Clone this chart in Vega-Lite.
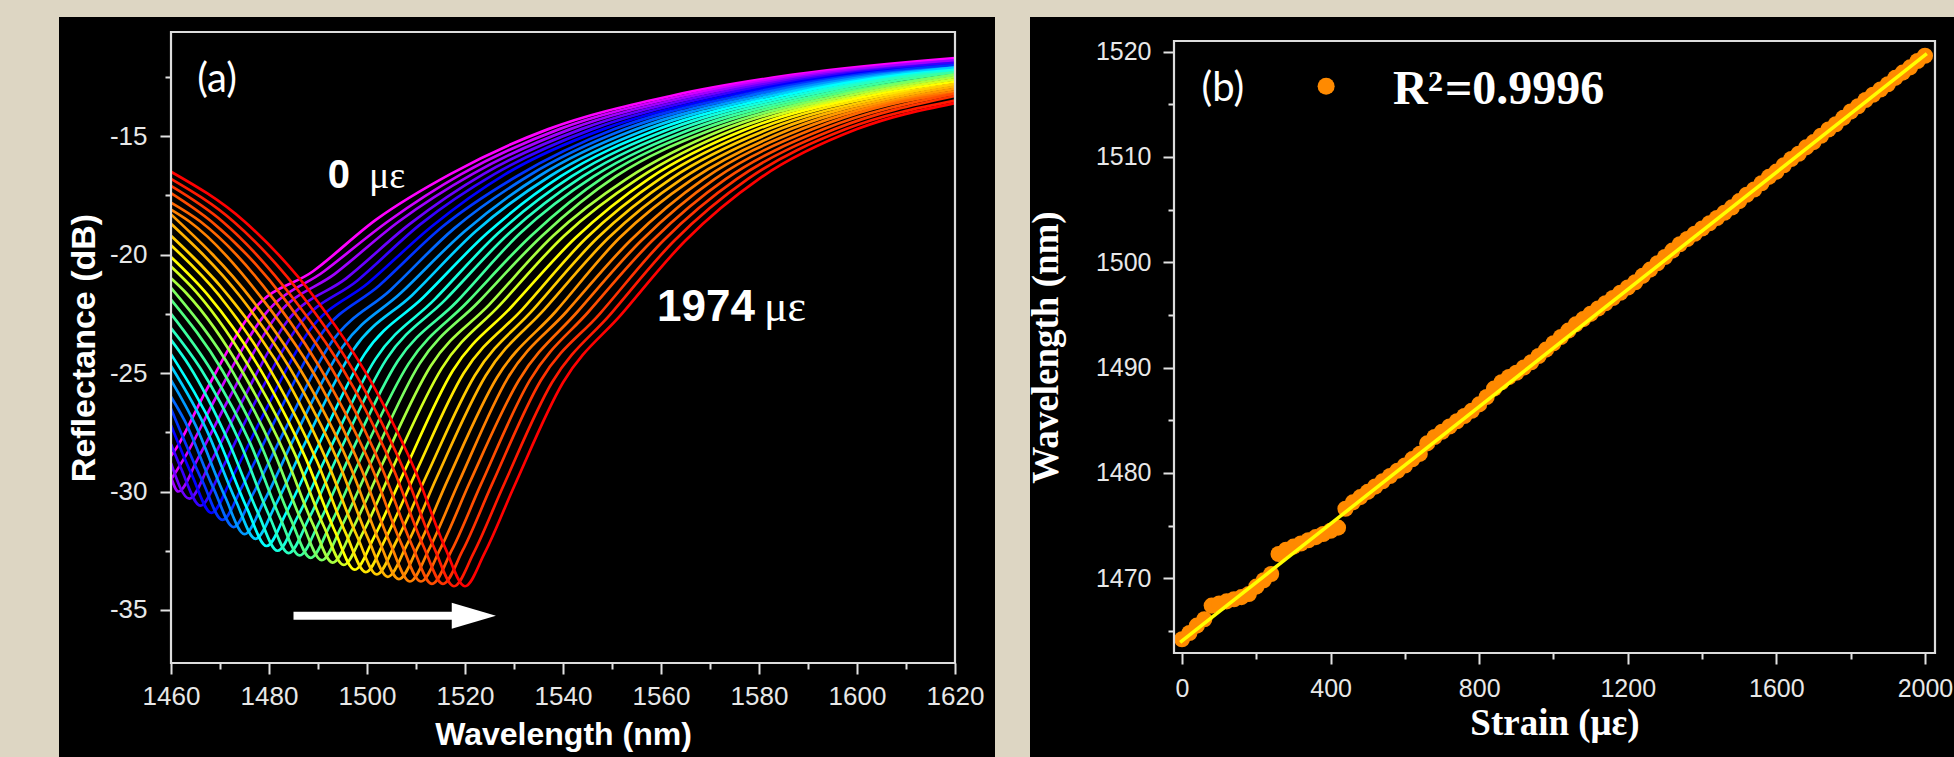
{
"$schema": "https://vega.github.io/schema/vega-lite/v6.json",
"background": "#ddd6c3",
"padding": {"left": 59, "top": 17, "right": 0, "bottom": 0},
"spacing": 32,
"config": {
  "view": {"stroke": null},
  "axis": {"grid": false, "domain": false, "tickColor": "#e2e2e2", "tickWidth": 2, "labelColor": "#e8e8e8", "titleColor": "#ffffff", "labelFont": "Liberation Sans", "labelFlush": false, "labelOverlap": false}
},
"hconcat": [
{
  "width": 936, "height": 740,
  "view": {"fill": "#000000", "stroke": null},
  "resolve": {"axis": {"x": "independent", "y": "independent"}},
  "layer": [
  {
    "data": {"values": [
{"c":0,"wl":1460,"r":-28.5},{"c":0,"wl":1461,"r":-28.2},{"c":0,"wl":1467,"r":-25.8},{"c":0,"wl":1477,"r":-22.3},{"c":0,"wl":1489,"r":-20.7},{"c":0,"wl":1502,"r":-18.5},{"c":0,"wl":1517,"r":-16.6},{"c":0,"wl":1537,"r":-14.7},{"c":0,"wl":1562,"r":-13.3},{"c":0,"wl":1587,"r":-12.4},{"c":0,"wl":1620,"r":-11.7},
{"c":1,"wl":1460,"r":-29.5},{"c":1,"wl":1463.25,"r":-28.4},{"c":1,"wl":1469.25,"r":-26.0},{"c":1,"wl":1479.25,"r":-22.5},{"c":1,"wl":1491.25,"r":-20.7},{"c":1,"wl":1504.25,"r":-18.6},{"c":1,"wl":1519.25,"r":-16.6},{"c":1,"wl":1539.25,"r":-14.7},{"c":1,"wl":1564.25,"r":-13.3},{"c":1,"wl":1589.25,"r":-12.4},{"c":1,"wl":1620,"r":-11.8},
{"c":2,"wl":1460,"r":-29.4},{"c":2,"wl":1461.5,"r":-30.0},{"c":2,"wl":1465.5,"r":-28.6},{"c":2,"wl":1471.5,"r":-26.2},{"c":2,"wl":1481.5,"r":-22.6},{"c":2,"wl":1493.5,"r":-20.8},{"c":2,"wl":1506.5,"r":-18.6},{"c":2,"wl":1521.5,"r":-16.6},{"c":2,"wl":1541.5,"r":-14.7},{"c":2,"wl":1566.5,"r":-13.3},{"c":2,"wl":1591.5,"r":-12.4},{"c":2,"wl":1620,"r":-11.8},
{"c":3,"wl":1460,"r":-28.8},{"c":3,"wl":1463.75,"r":-30.3},{"c":3,"wl":1467.75,"r":-28.9},{"c":3,"wl":1473.75,"r":-26.5},{"c":3,"wl":1483.75,"r":-22.8},{"c":3,"wl":1495.75,"r":-21.0},{"c":3,"wl":1508.75,"r":-18.7},{"c":3,"wl":1523.75,"r":-16.6},{"c":3,"wl":1543.75,"r":-14.7},{"c":3,"wl":1568.75,"r":-13.3},{"c":3,"wl":1593.75,"r":-12.4},{"c":3,"wl":1620,"r":-11.9},
{"c":4,"wl":1460,"r":-28.0},{"c":4,"wl":1462,"r":-29.0},{"c":4,"wl":1466,"r":-30.6},{"c":4,"wl":1470,"r":-29.2},{"c":4,"wl":1476,"r":-26.7},{"c":4,"wl":1486,"r":-23.0},{"c":4,"wl":1498,"r":-21.1},{"c":4,"wl":1511,"r":-18.7},{"c":4,"wl":1526,"r":-16.6},{"c":4,"wl":1546,"r":-14.7},{"c":4,"wl":1571,"r":-13.3},{"c":4,"wl":1596,"r":-12.4},{"c":4,"wl":1620,"r":-11.9},
{"c":5,"wl":1460,"r":-27.2},{"c":5,"wl":1464.25,"r":-29.3},{"c":5,"wl":1468.25,"r":-30.9},{"c":5,"wl":1472.25,"r":-29.5},{"c":5,"wl":1478.25,"r":-27.0},{"c":5,"wl":1488.25,"r":-23.2},{"c":5,"wl":1500.25,"r":-21.2},{"c":5,"wl":1513.25,"r":-18.8},{"c":5,"wl":1528.25,"r":-16.6},{"c":5,"wl":1548.25,"r":-14.7},{"c":5,"wl":1573.25,"r":-13.3},{"c":5,"wl":1598.25,"r":-12.4},{"c":5,"wl":1620,"r":-12.0},
{"c":6,"wl":1460,"r":-26.5},{"c":6,"wl":1466.5,"r":-29.6},{"c":6,"wl":1470.5,"r":-31.2},{"c":6,"wl":1474.5,"r":-29.8},{"c":6,"wl":1480.5,"r":-27.3},{"c":6,"wl":1490.5,"r":-23.4},{"c":6,"wl":1502.5,"r":-21.3},{"c":6,"wl":1515.5,"r":-18.8},{"c":6,"wl":1530.5,"r":-16.7},{"c":6,"wl":1550.5,"r":-14.7},{"c":6,"wl":1575.5,"r":-13.3},{"c":6,"wl":1600.5,"r":-12.4},{"c":6,"wl":1620,"r":-12.0},
{"c":7,"wl":1460,"r":-26.0},{"c":7,"wl":1462.75,"r":-27.0},{"c":7,"wl":1468.75,"r":-29.9},{"c":7,"wl":1472.75,"r":-31.5},{"c":7,"wl":1476.75,"r":-30.1},{"c":7,"wl":1482.75,"r":-27.6},{"c":7,"wl":1492.75,"r":-23.7},{"c":7,"wl":1504.75,"r":-21.5},{"c":7,"wl":1517.75,"r":-18.9},{"c":7,"wl":1532.75,"r":-16.7},{"c":7,"wl":1552.75,"r":-14.7},{"c":7,"wl":1577.75,"r":-13.3},{"c":7,"wl":1602.75,"r":-12.4},{"c":7,"wl":1620,"r":-12.1},
{"c":8,"wl":1460,"r":-25.3},{"c":8,"wl":1465,"r":-27.2},{"c":8,"wl":1471,"r":-30.2},{"c":8,"wl":1475,"r":-31.8},{"c":8,"wl":1479,"r":-30.4},{"c":8,"wl":1485,"r":-27.8},{"c":8,"wl":1495,"r":-23.9},{"c":8,"wl":1507,"r":-21.6},{"c":8,"wl":1520,"r":-19.0},{"c":8,"wl":1535,"r":-16.7},{"c":8,"wl":1555,"r":-14.7},{"c":8,"wl":1580,"r":-13.3},{"c":8,"wl":1605,"r":-12.4},{"c":8,"wl":1620,"r":-12.1},
{"c":9,"wl":1460,"r":-24.7},{"c":9,"wl":1467.25,"r":-27.4},{"c":9,"wl":1473.25,"r":-30.4},{"c":9,"wl":1477.25,"r":-32.0},{"c":9,"wl":1481.25,"r":-30.6},{"c":9,"wl":1487.25,"r":-28.0},{"c":9,"wl":1497.25,"r":-24.0},{"c":9,"wl":1509.25,"r":-21.7},{"c":9,"wl":1522.25,"r":-19.0},{"c":9,"wl":1537.25,"r":-16.7},{"c":9,"wl":1557.25,"r":-14.7},{"c":9,"wl":1582.25,"r":-13.3},{"c":9,"wl":1607.25,"r":-12.4},{"c":9,"wl":1620,"r":-12.1},
{"c":10,"wl":1460,"r":-24.2},{"c":10,"wl":1469.5,"r":-27.7},{"c":10,"wl":1475.5,"r":-30.7},{"c":10,"wl":1479.5,"r":-32.3},{"c":10,"wl":1483.5,"r":-30.9},{"c":10,"wl":1489.5,"r":-28.3},{"c":10,"wl":1499.5,"r":-24.2},{"c":10,"wl":1511.5,"r":-21.8},{"c":10,"wl":1524.5,"r":-19.1},{"c":10,"wl":1539.5,"r":-16.7},{"c":10,"wl":1559.5,"r":-14.7},{"c":10,"wl":1584.5,"r":-13.3},{"c":10,"wl":1609.5,"r":-12.4},{"c":10,"wl":1620,"r":-12.2},
{"c":11,"wl":1460,"r":-23.6},{"c":11,"wl":1463.75,"r":-24.7},{"c":11,"wl":1471.75,"r":-27.9},{"c":11,"wl":1477.75,"r":-30.9},{"c":11,"wl":1481.75,"r":-32.5},{"c":11,"wl":1485.75,"r":-31.1},{"c":11,"wl":1491.75,"r":-28.5},{"c":11,"wl":1501.75,"r":-24.4},{"c":11,"wl":1513.75,"r":-21.9},{"c":11,"wl":1526.75,"r":-19.1},{"c":11,"wl":1541.75,"r":-16.7},{"c":11,"wl":1561.75,"r":-14.7},{"c":11,"wl":1586.75,"r":-13.3},{"c":11,"wl":1611.75,"r":-12.4},{"c":11,"wl":1620,"r":-12.2},
{"c":12,"wl":1460,"r":-23.1},{"c":12,"wl":1466,"r":-24.8},{"c":12,"wl":1474,"r":-27.9},{"c":12,"wl":1480,"r":-31.0},{"c":12,"wl":1484,"r":-32.6},{"c":12,"wl":1488,"r":-31.2},{"c":12,"wl":1494,"r":-28.5},{"c":12,"wl":1504,"r":-24.4},{"c":12,"wl":1516,"r":-21.9},{"c":12,"wl":1529,"r":-19.1},{"c":12,"wl":1544,"r":-16.7},{"c":12,"wl":1564,"r":-14.7},{"c":12,"wl":1589,"r":-13.3},{"c":12,"wl":1614,"r":-12.4},{"c":12,"wl":1620,"r":-12.3},
{"c":13,"wl":1460,"r":-22.5},{"c":13,"wl":1468.25,"r":-24.9},{"c":13,"wl":1476.25,"r":-28.0},{"c":13,"wl":1482.25,"r":-31.1},{"c":13,"wl":1486.25,"r":-32.7},{"c":13,"wl":1490.25,"r":-31.3},{"c":13,"wl":1496.25,"r":-28.6},{"c":13,"wl":1506.25,"r":-24.5},{"c":13,"wl":1518.25,"r":-22.0},{"c":13,"wl":1531.25,"r":-19.1},{"c":13,"wl":1546.25,"r":-16.7},{"c":13,"wl":1566.25,"r":-14.7},{"c":13,"wl":1591.25,"r":-13.3},{"c":13,"wl":1616.25,"r":-12.4},{"c":13,"wl":1620,"r":-12.3},
{"c":14,"wl":1460,"r":-21.9},{"c":14,"wl":1470.5,"r":-24.9},{"c":14,"wl":1478.5,"r":-28.1},{"c":14,"wl":1484.5,"r":-31.2},{"c":14,"wl":1488.5,"r":-32.8},{"c":14,"wl":1492.5,"r":-31.4},{"c":14,"wl":1498.5,"r":-28.7},{"c":14,"wl":1508.5,"r":-24.6},{"c":14,"wl":1520.5,"r":-22.0},{"c":14,"wl":1533.5,"r":-19.2},{"c":14,"wl":1548.5,"r":-16.7},{"c":14,"wl":1568.5,"r":-14.7},{"c":14,"wl":1593.5,"r":-13.3},{"c":14,"wl":1620,"r":-12.4},
{"c":15,"wl":1460,"r":-21.4},{"c":15,"wl":1472.75,"r":-25.0},{"c":15,"wl":1480.75,"r":-28.2},{"c":15,"wl":1486.75,"r":-31.3},{"c":15,"wl":1490.75,"r":-32.9},{"c":15,"wl":1494.75,"r":-31.5},{"c":15,"wl":1500.75,"r":-28.8},{"c":15,"wl":1510.75,"r":-24.6},{"c":15,"wl":1522.75,"r":-22.0},{"c":15,"wl":1535.75,"r":-19.2},{"c":15,"wl":1550.75,"r":-16.7},{"c":15,"wl":1570.75,"r":-14.7},{"c":15,"wl":1595.75,"r":-13.3},{"c":15,"wl":1620,"r":-12.4},
{"c":16,"wl":1460,"r":-21.0},{"c":16,"wl":1463,"r":-21.6},{"c":16,"wl":1475,"r":-25.1},{"c":16,"wl":1483,"r":-28.3},{"c":16,"wl":1489,"r":-31.4},{"c":16,"wl":1493,"r":-33.0},{"c":16,"wl":1497,"r":-31.6},{"c":16,"wl":1503,"r":-28.9},{"c":16,"wl":1513,"r":-24.7},{"c":16,"wl":1525,"r":-22.1},{"c":16,"wl":1538,"r":-19.2},{"c":16,"wl":1553,"r":-16.8},{"c":16,"wl":1573,"r":-14.7},{"c":16,"wl":1598,"r":-13.3},{"c":16,"wl":1620,"r":-12.5},
{"c":17,"wl":1460,"r":-20.5},{"c":17,"wl":1465.25,"r":-21.6},{"c":17,"wl":1477.25,"r":-25.2},{"c":17,"wl":1485.25,"r":-28.4},{"c":17,"wl":1491.25,"r":-31.5},{"c":17,"wl":1495.25,"r":-33.1},{"c":17,"wl":1499.25,"r":-31.7},{"c":17,"wl":1505.25,"r":-29.0},{"c":17,"wl":1515.25,"r":-24.8},{"c":17,"wl":1527.25,"r":-22.1},{"c":17,"wl":1540.25,"r":-19.2},{"c":17,"wl":1555.25,"r":-16.8},{"c":17,"wl":1575.25,"r":-14.7},{"c":17,"wl":1600.25,"r":-13.3},{"c":17,"wl":1620,"r":-12.6},
{"c":18,"wl":1460,"r":-20.1},{"c":18,"wl":1467.5,"r":-21.7},{"c":18,"wl":1479.5,"r":-25.3},{"c":18,"wl":1487.5,"r":-28.6},{"c":18,"wl":1493.5,"r":-31.7},{"c":18,"wl":1497.5,"r":-33.3},{"c":18,"wl":1501.5,"r":-31.9},{"c":18,"wl":1507.5,"r":-29.2},{"c":18,"wl":1517.5,"r":-24.9},{"c":18,"wl":1529.5,"r":-22.2},{"c":18,"wl":1542.5,"r":-19.3},{"c":18,"wl":1557.5,"r":-16.8},{"c":18,"wl":1577.5,"r":-14.7},{"c":18,"wl":1602.5,"r":-13.3},{"c":18,"wl":1620,"r":-12.7},
{"c":19,"wl":1460,"r":-19.6},{"c":19,"wl":1469.75,"r":-21.7},{"c":19,"wl":1481.75,"r":-25.4},{"c":19,"wl":1489.75,"r":-28.7},{"c":19,"wl":1495.75,"r":-31.8},{"c":19,"wl":1499.75,"r":-33.4},{"c":19,"wl":1503.75,"r":-32.0},{"c":19,"wl":1509.75,"r":-29.3},{"c":19,"wl":1519.75,"r":-25.0},{"c":19,"wl":1531.75,"r":-22.3},{"c":19,"wl":1544.75,"r":-19.3},{"c":19,"wl":1559.75,"r":-16.8},{"c":19,"wl":1579.75,"r":-14.7},{"c":19,"wl":1604.75,"r":-13.3},{"c":19,"wl":1620,"r":-12.8},
{"c":20,"wl":1460,"r":-19.2},{"c":20,"wl":1472,"r":-21.8},{"c":20,"wl":1484,"r":-25.4},{"c":20,"wl":1492,"r":-28.8},{"c":20,"wl":1498,"r":-31.9},{"c":20,"wl":1502,"r":-33.5},{"c":20,"wl":1506,"r":-32.1},{"c":20,"wl":1512,"r":-29.4},{"c":20,"wl":1522,"r":-25.1},{"c":20,"wl":1534,"r":-22.3},{"c":20,"wl":1547,"r":-19.3},{"c":20,"wl":1562,"r":-16.8},{"c":20,"wl":1582,"r":-14.7},{"c":20,"wl":1607,"r":-13.3},{"c":20,"wl":1620,"r":-12.8},
{"c":21,"wl":1460,"r":-18.7},{"c":21,"wl":1474.25,"r":-21.8},{"c":21,"wl":1486.25,"r":-25.5},{"c":21,"wl":1494.25,"r":-28.8},{"c":21,"wl":1500.25,"r":-32.0},{"c":21,"wl":1504.25,"r":-33.6},{"c":21,"wl":1508.25,"r":-32.2},{"c":21,"wl":1514.25,"r":-29.4},{"c":21,"wl":1524.25,"r":-25.1},{"c":21,"wl":1536.25,"r":-22.3},{"c":21,"wl":1549.25,"r":-19.3},{"c":21,"wl":1564.25,"r":-16.8},{"c":21,"wl":1584.25,"r":-14.7},{"c":21,"wl":1609.25,"r":-13.3},{"c":21,"wl":1620,"r":-12.9},
{"c":22,"wl":1460,"r":-18.3},{"c":22,"wl":1476.5,"r":-21.9},{"c":22,"wl":1488.5,"r":-25.6},{"c":22,"wl":1496.5,"r":-28.9},{"c":22,"wl":1502.5,"r":-32.1},{"c":22,"wl":1506.5,"r":-33.7},{"c":22,"wl":1510.5,"r":-32.3},{"c":22,"wl":1516.5,"r":-29.5},{"c":22,"wl":1526.5,"r":-25.2},{"c":22,"wl":1538.5,"r":-22.4},{"c":22,"wl":1551.5,"r":-19.3},{"c":22,"wl":1566.5,"r":-16.8},{"c":22,"wl":1586.5,"r":-14.7},{"c":22,"wl":1611.5,"r":-13.3},{"c":22,"wl":1620,"r":-13.0},
{"c":23,"wl":1460,"r":-18.1},{"c":23,"wl":1463.75,"r":-18.6},{"c":23,"wl":1478.75,"r":-21.9},{"c":23,"wl":1490.75,"r":-25.6},{"c":23,"wl":1498.75,"r":-29.0},{"c":23,"wl":1504.75,"r":-32.2},{"c":23,"wl":1508.75,"r":-33.8},{"c":23,"wl":1512.75,"r":-32.4},{"c":23,"wl":1518.75,"r":-29.6},{"c":23,"wl":1528.75,"r":-25.2},{"c":23,"wl":1540.75,"r":-22.4},{"c":23,"wl":1553.75,"r":-19.4},{"c":23,"wl":1568.75,"r":-16.8},{"c":23,"wl":1588.75,"r":-14.7},{"c":23,"wl":1613.75,"r":-13.3},{"c":23,"wl":1620,"r":-13.1},
{"c":24,"wl":1460,"r":-17.8},{"c":24,"wl":1466,"r":-18.6},{"c":24,"wl":1481,"r":-21.9},{"c":24,"wl":1493,"r":-25.7},{"c":24,"wl":1501,"r":-29.0},{"c":24,"wl":1507,"r":-32.2},{"c":24,"wl":1511,"r":-33.8},{"c":24,"wl":1515,"r":-32.4},{"c":24,"wl":1521,"r":-29.6},{"c":24,"wl":1531,"r":-25.3},{"c":24,"wl":1543,"r":-22.4},{"c":24,"wl":1556,"r":-19.4},{"c":24,"wl":1571,"r":-16.8},{"c":24,"wl":1591,"r":-14.7},{"c":24,"wl":1616,"r":-13.3},{"c":24,"wl":1620,"r":-13.2},
{"c":25,"wl":1460,"r":-17.4},{"c":25,"wl":1468.25,"r":-18.6},{"c":25,"wl":1483.25,"r":-21.9},{"c":25,"wl":1495.25,"r":-25.7},{"c":25,"wl":1503.25,"r":-29.1},{"c":25,"wl":1509.25,"r":-32.3},{"c":25,"wl":1513.25,"r":-33.9},{"c":25,"wl":1517.25,"r":-32.5},{"c":25,"wl":1523.25,"r":-29.7},{"c":25,"wl":1533.25,"r":-25.3},{"c":25,"wl":1545.25,"r":-22.4},{"c":25,"wl":1558.25,"r":-19.4},{"c":25,"wl":1573.25,"r":-16.8},{"c":25,"wl":1593.25,"r":-14.7},{"c":25,"wl":1620,"r":-13.2},
{"c":26,"wl":1460,"r":-17.1},{"c":26,"wl":1470.5,"r":-18.6},{"c":26,"wl":1485.5,"r":-22.0},{"c":26,"wl":1497.5,"r":-25.7},{"c":26,"wl":1505.5,"r":-29.1},{"c":26,"wl":1511.5,"r":-32.3},{"c":26,"wl":1515.5,"r":-33.9},{"c":26,"wl":1519.5,"r":-32.5},{"c":26,"wl":1525.5,"r":-29.7},{"c":26,"wl":1535.5,"r":-25.3},{"c":26,"wl":1547.5,"r":-22.5},{"c":26,"wl":1560.5,"r":-19.4},{"c":26,"wl":1575.5,"r":-16.8},{"c":26,"wl":1595.5,"r":-14.7},{"c":26,"wl":1620,"r":-13.3},
{"c":27,"wl":1460,"r":-16.8},{"c":27,"wl":1472.75,"r":-18.6},{"c":27,"wl":1487.75,"r":-22.0},{"c":27,"wl":1499.75,"r":-25.8},{"c":27,"wl":1507.75,"r":-29.2},{"c":27,"wl":1513.75,"r":-32.4},{"c":27,"wl":1517.75,"r":-34.0},{"c":27,"wl":1521.75,"r":-32.6},{"c":27,"wl":1527.75,"r":-29.8},{"c":27,"wl":1537.75,"r":-25.4},{"c":27,"wl":1549.75,"r":-22.5},{"c":27,"wl":1562.75,"r":-19.4},{"c":27,"wl":1577.75,"r":-16.8},{"c":27,"wl":1597.75,"r":-14.7},{"c":27,"wl":1620,"r":-13.5},
{"c":28,"wl":1460,"r":-16.5},{"c":28,"wl":1475,"r":-18.6},{"c":28,"wl":1490,"r":-22.0},{"c":28,"wl":1502,"r":-25.8},{"c":28,"wl":1510,"r":-29.2},{"c":28,"wl":1516,"r":-32.4},{"c":28,"wl":1520,"r":-34.0},{"c":28,"wl":1524,"r":-32.6},{"c":28,"wl":1530,"r":-29.8},{"c":28,"wl":1540,"r":-25.4},{"c":28,"wl":1552,"r":-22.5},{"c":28,"wl":1565,"r":-19.4},{"c":28,"wl":1580,"r":-16.8},{"c":28,"wl":1600,"r":-14.7},{"c":28,"wl":1620,"r":-13.6}
    ]},
    "mark": {"type": "line", "interpolate": "monotone", "strokeWidth": 2.7},
    "encoding": {
      "x": {"field": "wl", "type": "quantitative",
        "scale": {"domain": [1460, 1620], "range": [112, 896], "nice": false, "zero": false},
        "axis": {"orient": "bottom", "offset": -94, "values": [1460,1480,1500,1520,1540,1560,1580,1600,1620], "format": "d", "tickSize": 11, "labelFontSize": 26, "labelPadding": 9, "title": "Wavelength (nm)", "titleFont": "Liberation Sans", "titleFontSize": 32, "titleFontWeight": "bold", "titlePadding": 10}},
      "y": {"field": "r", "type": "quantitative",
        "scale": {"domain": [-37.24, -10.6], "range": [646, 15], "nice": false, "zero": false},
        "axis": {"orient": "left", "offset": -112, "values": [-35,-30,-25,-20,-15], "labelExpr": "replace(datum.label, '−', '-')", "tickSize": 11, "labelFontSize": 26, "labelPadding": 13, "title": "Reflectance (dB)", "titleFont": "Liberation Sans", "titleFontSize": 34, "titleFontWeight": "bold", "titlePadding": 8}},
      "color": {"field": "c", "type": "quantitative", "legend": null,
        "scale": {"type": "linear", "domain": [0,2,5,10,14,18,23,28], "range": ["#ff00ff","#a000ff","#0000ff","#00ffff","#50ff80","#ffff00","#ff8000","#ff0000"], "interpolate": "rgb"}},
      "detail": {"field": "c", "type": "nominal"}
    }
  },
  {
    "data": {"values": [{}]},
    "mark": {"type": "rect", "fillOpacity": 0, "stroke": "#dddddd", "strokeWidth": 2.2},
    "encoding": {
      "x": {"datum": 1460, "type": "quantitative", "axis": {"orient": "bottom", "offset": -94, "values": [1470,1490,1510,1530,1550,1570,1590,1610], "tickSize": 6, "labels": false, "title": null}},
      "x2": {"datum": 1620},
      "y": {"datum": -37.24, "type": "quantitative", "axis": {"orient": "left", "offset": -112, "values": [-32.5,-27.5,-22.5,-17.5,-12.5], "tickSize": 6, "labels": false, "title": null}},
      "y2": {"datum": -10.6}
    }
  },
  {
    "data": {"values": [{}]},
    "mark": {"type": "rule", "color": "#ffffff", "strokeWidth": 8, "strokeCap": "butt"},
    "encoding": {
      "x": {"datum": 1485, "type": "quantitative", "axis": null},
      "x2": {"datum": 1518},
      "y": {"datum": -35.25, "type": "quantitative", "axis": null}
    }
  },
  {
    "data": {"values": [{}]},
    "mark": {"type": "point", "shape": "M -1.7 -1 L 1.7 0 L -1.7 1 Z", "filled": true, "color": "#ffffff", "opacity": 1, "size": 676},
    "encoding": {
      "x": {"datum": 1521.8, "type": "quantitative", "axis": null},
      "y": {"datum": -35.25, "type": "quantitative", "axis": null}
    }
  },
  {
    "data": {"values": [{}]},
    "mark": {"type": "text", "text": "(a)", "font": "Lato", "fontSize": 40, "color": "#ffffff", "align": "center", "baseline": "middle"},
    "encoding": {
      "x": {"datum": 1469.4, "type": "quantitative", "axis": null},
      "y": {"datum": -12.64, "type": "quantitative", "axis": null}
    }
  },
  {
    "data": {"values": [{}]},
    "mark": {"type": "text", "text": "0", "font": "Liberation Sans", "fontWeight": "bold", "fontSize": 40, "color": "#ffffff", "align": "left", "baseline": "alphabetic"},
    "encoding": {
      "x": {"datum": 1492.0, "type": "quantitative", "axis": null},
      "y": {"datum": -17.19, "type": "quantitative", "axis": null}
    }
  },
  {
    "data": {"values": [{}]},
    "mark": {"type": "text", "text": "με", "font": "Liberation Serif", "fontSize": 38, "color": "#ffffff", "align": "left", "baseline": "alphabetic"},
    "encoding": {
      "x": {"datum": 1500.4, "type": "quantitative", "axis": null},
      "y": {"datum": -17.19, "type": "quantitative", "axis": null}
    }
  },
  {
    "data": {"values": [{}]},
    "mark": {"type": "text", "text": "1974", "font": "Liberation Sans", "fontWeight": "bold", "fontSize": 44, "color": "#ffffff", "align": "left", "baseline": "alphabetic"},
    "encoding": {
      "x": {"datum": 1559.2, "type": "quantitative", "axis": null},
      "y": {"datum": -22.8, "type": "quantitative", "axis": null}
    }
  },
  {
    "data": {"values": [{}]},
    "mark": {"type": "text", "text": "με", "font": "Liberation Serif", "fontSize": 44, "color": "#ffffff", "align": "left", "baseline": "alphabetic"},
    "encoding": {
      "x": {"datum": 1581.0, "type": "quantitative", "axis": null},
      "y": {"datum": -22.8, "type": "quantitative", "axis": null}
    }
  }
  ]
},
{
  "width": 927, "height": 740,
  "view": {"fill": "#000000", "stroke": null},
  "resolve": {"axis": {"x": "independent", "y": "independent"}},
  "layer": [
  {
    "data": {"values": [
{"s":0,"wl":1464.2},{"s":20,"wl":1464.8},{"s":40,"wl":1465.5},{"s":60,"wl":1466.1},{"s":80,"wl":1467.4},{"s":100,"wl":1467.6},{"s":120,"wl":1467.8},{"s":140,"wl":1468.0},{"s":160,"wl":1468.2},{"s":180,"wl":1468.5},{"s":200,"wl":1469.2},{"s":220,"wl":1469.8},{"s":240,"wl":1470.4},{"s":260,"wl":1472.3},{"s":280,"wl":1472.7},{"s":300,"wl":1473.0},{"s":320,"wl":1473.3},{"s":340,"wl":1473.6},{"s":360,"wl":1473.9},{"s":380,"wl":1474.2},{"s":400,"wl":1474.5},{"s":420,"wl":1474.8},{"s":440,"wl":1476.6},{"s":460,"wl":1477.2},{"s":480,"wl":1477.7},{"s":500,"wl":1478.2},{"s":520,"wl":1478.7},{"s":540,"wl":1479.2},{"s":560,"wl":1479.7},{"s":580,"wl":1480.2},{"s":600,"wl":1480.7},{"s":620,"wl":1481.3},{"s":640,"wl":1481.8},{"s":660,"wl":1482.8},{"s":680,"wl":1483.4},{"s":700,"wl":1483.9},{"s":720,"wl":1484.4},{"s":740,"wl":1484.9},{"s":760,"wl":1485.4},{"s":780,"wl":1485.9},{"s":800,"wl":1486.5},{"s":820,"wl":1487.2},{"s":840,"wl":1488.0},{"s":860,"wl":1488.6},{"s":880,"wl":1489.1},{"s":900,"wl":1489.5},{"s":920,"wl":1490.0},{"s":940,"wl":1490.5},{"s":960,"wl":1491.1},{"s":980,"wl":1491.7},{"s":1000,"wl":1492.3},{"s":1020,"wl":1492.9},{"s":1040,"wl":1493.5},{"s":1060,"wl":1494.1},{"s":1080,"wl":1494.6},{"s":1100,"wl":1495.1},{"s":1120,"wl":1495.6},{"s":1140,"wl":1496.1},{"s":1160,"wl":1496.6},{"s":1180,"wl":1497.1},{"s":1200,"wl":1497.6},{"s":1220,"wl":1498.1},{"s":1240,"wl":1498.7},{"s":1260,"wl":1499.3},{"s":1280,"wl":1499.9},{"s":1300,"wl":1500.5},{"s":1320,"wl":1501.1},{"s":1340,"wl":1501.7},{"s":1360,"wl":1502.2},{"s":1380,"wl":1502.7},{"s":1400,"wl":1503.2},{"s":1420,"wl":1503.7},{"s":1440,"wl":1504.2},{"s":1460,"wl":1504.7},{"s":1480,"wl":1505.2},{"s":1500,"wl":1505.8},{"s":1520,"wl":1506.4},{"s":1540,"wl":1506.9},{"s":1560,"wl":1507.5},{"s":1580,"wl":1508.1},{"s":1600,"wl":1508.6},{"s":1620,"wl":1509.2},{"s":1640,"wl":1509.8},{"s":1660,"wl":1510.3},{"s":1680,"wl":1510.9},{"s":1700,"wl":1511.4},{"s":1720,"wl":1512.0},{"s":1740,"wl":1512.6},{"s":1760,"wl":1513.1},{"s":1780,"wl":1513.7},{"s":1800,"wl":1514.3},{"s":1820,"wl":1514.8},{"s":1840,"wl":1515.4},{"s":1860,"wl":1515.9},{"s":1880,"wl":1516.4},{"s":1900,"wl":1516.9},{"s":1920,"wl":1517.5},{"s":1940,"wl":1518.0},{"s":1960,"wl":1518.5},{"s":1980,"wl":1519.1},{"s":2000,"wl":1519.6}
    ]},
    "mark": {"type": "point", "filled": true, "color": "#ff8a00", "opacity": 1, "size": 260},
    "encoding": {
      "x": {"field": "s", "type": "quantitative",
        "scale": {"domain": [-21.5, 2027], "range": [144, 905], "nice": false, "zero": false},
        "axis": {"orient": "bottom", "offset": -104, "values": [0,400,800,1200,1600,2000], "format": "d", "tickSize": 11, "labelFontSize": 25, "labelPadding": 12, "title": "Strain (με)", "titleFont": "Liberation Serif", "titleFontSize": 37, "titleFontWeight": "bold", "titlePadding": 4}},
      "y": {"field": "wl", "type": "quantitative",
        "scale": {"domain": [1462.9, 1521.0], "range": [636, 24], "nice": false, "zero": false},
        "axis": {"orient": "left", "offset": -144, "values": [1470,1480,1490,1500,1510,1520], "format": "d", "tickSize": 11, "labelFontSize": 25, "labelPadding": 12, "title": "Wavelength (nm)", "titleFont": "Liberation Serif", "titleFontSize": 37, "titleFontWeight": "bold", "titlePadding": 30}}
    }
  },
  {
    "data": {"values": [{"s": -5, "wl": 1463.9}, {"s": 2005, "wl": 1519.8}]},
    "mark": {"type": "line", "color": "#ffff00", "strokeWidth": 3.5},
    "encoding": {
      "x": {"field": "s", "type": "quantitative", "axis": null},
      "y": {"field": "wl", "type": "quantitative", "axis": null}
    }
  },
  {
    "data": {"values": [{}]},
    "mark": {"type": "rect", "fillOpacity": 0, "stroke": "#dddddd", "strokeWidth": 2.2},
    "encoding": {
      "x": {"datum": -21.5, "type": "quantitative", "axis": {"orient": "bottom", "offset": -104, "values": [200,600,1000,1400,1800], "tickSize": 6, "labels": false, "title": null}},
      "x2": {"datum": 2027},
      "y": {"datum": 1462.9, "type": "quantitative", "axis": {"orient": "left", "offset": -144, "values": [1465,1475,1485,1495,1505,1515], "tickSize": 6, "labels": false, "title": null}},
      "y2": {"datum": 1521.0}
    }
  },
  {
    "data": {"values": [{}]},
    "mark": {"type": "text", "text": "(b)", "font": "Lato", "fontSize": 40, "color": "#ffffff", "align": "center", "baseline": "middle"},
    "encoding": {
      "x": {"datum": 110, "type": "quantitative", "axis": null},
      "y": {"datum": 1516.4, "type": "quantitative", "axis": null}
    }
  },
  {
    "data": {"values": [{}]},
    "mark": {"type": "point", "filled": true, "color": "#ff8a00", "opacity": 1, "size": 290},
    "encoding": {
      "x": {"datum": 388, "type": "quantitative", "axis": null},
      "y": {"datum": 1516.7, "type": "quantitative", "axis": null}
    }
  },
  {
    "data": {"values": [{}]},
    "mark": {"type": "text", "text": "R", "font": "Liberation Serif", "fontWeight": "bold", "fontSize": 48, "color": "#ffffff", "align": "left", "baseline": "alphabetic"},
    "encoding": {
      "x": {"datum": 568, "type": "quantitative", "axis": null},
      "y": {"datum": 1515.0, "type": "quantitative", "axis": null}
    }
  },
  {
    "data": {"values": [{}]},
    "mark": {"type": "text", "text": "2", "font": "Liberation Serif", "fontWeight": "bold", "fontSize": 30, "color": "#ffffff", "align": "left", "baseline": "alphabetic"},
    "encoding": {
      "x": {"datum": 662, "type": "quantitative", "axis": null},
      "y": {"datum": 1516.3, "type": "quantitative", "axis": null}
    }
  },
  {
    "data": {"values": [{}]},
    "mark": {"type": "text", "text": "=0.9996", "font": "Liberation Serif", "fontWeight": "bold", "fontSize": 48, "color": "#ffffff", "align": "left", "baseline": "alphabetic"},
    "encoding": {
      "x": {"datum": 708, "type": "quantitative", "axis": null},
      "y": {"datum": 1515.0, "type": "quantitative", "axis": null}
    }
  }
  ]
}
]
}
